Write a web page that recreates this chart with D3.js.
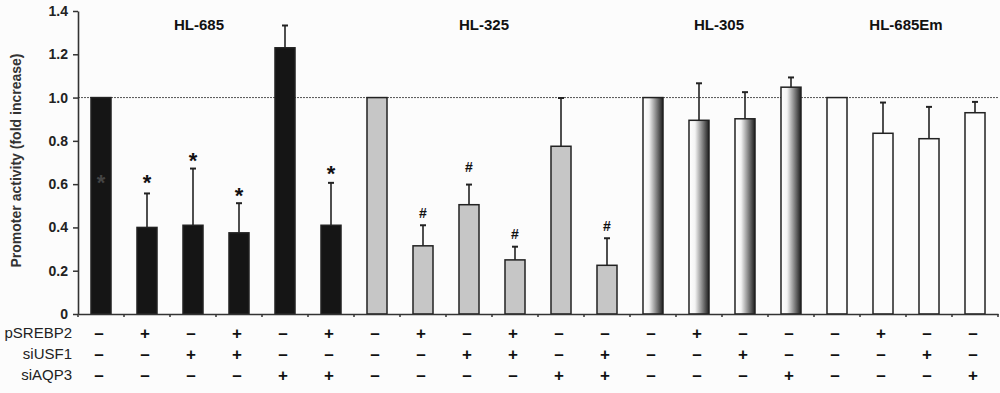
<!DOCTYPE html>
<html>
<head>
<meta charset="utf-8">
<script src="https://cdn.jsdelivr.net/npm/d3@7"></script>
<style>
  body { margin: 0; background: #fcfcfc; }
  svg { font-family: Arial, "Liberation Sans", sans-serif; }
</style>
</head>
<body>
<div id="chart"></div>
<script>
// cell lines and their bars
var groups = ["HL-685", "HL-325", "HL-305", "HL-685Em"];
var groupOf = ["HL-685","HL-685","HL-685","HL-685","HL-685","HL-685",
               "HL-325","HL-325","HL-325","HL-325","HL-325","HL-325",
               "HL-305","HL-305","HL-305","HL-305",
               "HL-685Em","HL-685Em","HL-685Em","HL-685Em"];
var values = [1.0, 0.40, 0.41, 0.375, 1.23, 0.41,
              1.0, 0.315, 0.505, 0.25, 0.775, 0.225,
              1.0, 0.895, 0.902, 1.048,
              1.0, 0.835, 0.81, 0.93];
var errTop = [null, 0.557, 0.672, 0.512, 1.333, 0.606,
              null, 0.41, 0.598, 0.311, 0.998, 0.35,
              null, 1.066, 1.025, 1.093,
              null, 0.977, 0.957, 0.98];
// significance marks: symbol and height
var marks = ["*", "*", "*", "*", "", "*",
             "", "#", "#", "#", "", "#",
             "", "", "", "",
             "", "", "", ""];
var markY = [0.627, 0.627, 0.73, 0.57, null, 0.669,
             null, 0.465, 0.678, 0.368, null, 0.407,
             null, null, null, null,
             null, null, null, null];
var rowLabels = ["pSREBP2", "siUSF1", "siAQP3"];
var pSREBP2 = "-+-+-+-+-+---+---+--";
var siUSF1  = "--++----++-+--+---+-";
var siAQP3  = "----++----++---+---+";
var yTicks = [0, 0.2, 0.4, 0.6, 0.8, 1.0, 1.2, 1.4];

var W = 1000, H = 393;
var margin = {top: 11, right: 2, bottom: 79, left: 78};
var width = W - margin.left - margin.right,
    height = H - margin.top - margin.bottom;

var idx = d3.range(values.length);

var x = d3.scaleBand()
    .domain(idx)
    .range([0, width])
    .paddingInner(0.565)
    .paddingOuter(0.2825);

var y = d3.scaleLinear()
    .domain([0, 1.4])
    .range([height, 0]);

var fills = {"HL-685": "#151515", "HL-325": "#c6c6c6", "HL-305": "url(#grad)", "HL-685Em": "#fcfcfc"};

var svg = d3.select("#chart").append("svg")
    .attr("width", W)
    .attr("height", H);

var defs = svg.append("defs");
var grad = defs.append("linearGradient").attr("id", "grad")
    .attr("x1", "0%").attr("x2", "100%").attr("y1", "0%").attr("y2", "0%");
grad.append("stop").attr("offset", "0%").attr("stop-color", "#ffffff");
grad.append("stop").attr("offset", "30%").attr("stop-color", "#f4f4f4");
grad.append("stop").attr("offset", "100%").attr("stop-color", "#1e1e1e");

var g = svg.append("g")
    .attr("transform", "translate(" + margin.left + "," + margin.top + ")");

// reference line at 1.0
g.append("line")
    .attr("x1", 0).attr("x2", width)
    .attr("y1", y(1)).attr("y2", y(1))
    .attr("stroke", "#555")
    .attr("stroke-width", 1)
    .attr("stroke-dasharray", "2,1");

// error bars
var eb = g.selectAll(".err").data(idx.filter(function(i){ return errTop[i] != null; }))
    .enter().append("g").attr("class", "err");
eb.append("line")
    .attr("x1", function(i){ return x(i) + x.bandwidth()/2; })
    .attr("x2", function(i){ return x(i) + x.bandwidth()/2; })
    .attr("y1", function(i){ return y(values[i]); })
    .attr("y2", function(i){ return y(errTop[i]); })
    .attr("stroke", "#222").attr("stroke-width", 1.6);
eb.append("line")
    .attr("x1", function(i){ return x(i) + x.bandwidth()/2 - 3; })
    .attr("x2", function(i){ return x(i) + x.bandwidth()/2 + 3; })
    .attr("y1", function(i){ return y(errTop[i]); })
    .attr("y2", function(i){ return y(errTop[i]); })
    .attr("stroke", "#222").attr("stroke-width", 2);

// bars
g.selectAll(".bar").data(idx).enter().append("rect")
    .attr("class", "bar")
    .attr("x", function(i){ return x(i); })
    .attr("y", function(i){ return y(values[i]); })
    .attr("width", x.bandwidth())
    .attr("height", function(i){ return y(0) - y(values[i]); })
    .attr("fill", function(i){ return fills[groupOf[i]]; })
    .attr("stroke", "#222")
    .attr("stroke-width", 1.5);

// significance marks
g.selectAll(".mark").data(idx.filter(function(i){ return marks[i] !== ""; }))
    .enter().append("text")
    .attr("class", "mark")
    .attr("x", function(i){ return x(i) + x.bandwidth()/2; })
    .attr("y", function(i){ return y(markY[i]); })
    .attr("dy", function(i){ return marks[i] === "*" ? "0.55em" : "0.35em"; })
    .attr("text-anchor", "middle")
    .attr("font-size", function(i){ return marks[i] === "*" ? "22px" : "14px"; })
    .attr("font-weight", "bold")
    .attr("fill", function(i){ return i === 0 ? "#444" : "#111"; })
    .text(function(i){ return marks[i]; });

// group titles
groups.forEach(function(name){
    var members = idx.filter(function(i){ return groupOf[i] === name; });
    var cx = (x(members[0]) + x(members[members.length - 1]) + x.bandwidth()) / 2;
    var offs = {"HL-685": -17, "HL-325": -8, "HL-305": -3, "HL-685Em": 0};
    g.append("text")
        .attr("x", cx + offs[name])
        .attr("y", 19)
        .attr("text-anchor", "middle")
        .attr("font-size", "15px")
        .attr("font-weight", "bold")
        .attr("fill", "#111")
        .text(name);
});

// axes
var xAxis = g.append("g")
    .attr("transform", "translate(0," + height + ")")
    .call(d3.axisBottom(x).tickValues([]).tickSizeOuter(0));
xAxis.select(".domain").attr("stroke", "#333").attr("stroke-width", 1.6);
xAxis.selectAll(".btick").data(d3.range(values.length + 1)).enter().append("line")
    .attr("x1", function(k){ return k * x.step(); })
    .attr("x2", function(k){ return k * x.step(); })
    .attr("y1", 0).attr("y2", 3)
    .attr("stroke", "#333").attr("stroke-width", 1.5);

var yAxis = g.append("g")
    .call(d3.axisLeft(y).tickValues(yTicks).tickSize(5).tickSizeOuter(0)
        .tickFormat(function(d){ return d === 0 ? "0" : d3.format(".1f")(d); }));
yAxis.select(".domain").attr("stroke", "#333").attr("stroke-width", 1.6);
yAxis.selectAll(".tick line").attr("stroke", "#333").attr("stroke-width", 1.5);
yAxis.selectAll(".tick text")
    .attr("font-size", "14px")
    .attr("font-weight", "bold")
    .attr("font-family", "Arial, 'Liberation Sans', sans-serif")
    .attr("fill", "#222")
    .attr("x", -10);

g.append("text")
    .attr("transform", "rotate(-90)")
    .attr("x", -(y(0.7)) + 2)
    .attr("y", -53)
    .attr("dy", "-0.3em")
    .attr("text-anchor", "middle")
    .attr("font-size", "14px")
    .attr("font-weight", "bold")
    .attr("fill", "#333")
    .text("Promoter activity (fold increase)");

// condition table
var rows = [pSREBP2, siUSF1, siAQP3];
rows.forEach(function(pattern, r){
    var ry = height + 19 + r * 20.8;
    g.append("text")
        .attr("x", -6)
        .attr("y", ry)
        .attr("dy", "0.35em")
        .attr("text-anchor", "end")
        .attr("font-size", "15px")
        .attr("fill", "#222")
        .text(rowLabels[r]);
    g.selectAll(".sign" + r).data(idx).enter().append("text")
        .attr("x", function(i){ return x(i) + x.bandwidth()/2 - 2; })
        .attr("y", ry)
        .attr("dy", "0.35em")
        .attr("text-anchor", "middle")
        .attr("font-size", "17px")
        .attr("font-weight", "bold")
        .attr("fill", "#111")
        .text(function(i){ return pattern[i] === "+" ? "+" : "\u2013"; });
});
</script>
</body>
</html>
